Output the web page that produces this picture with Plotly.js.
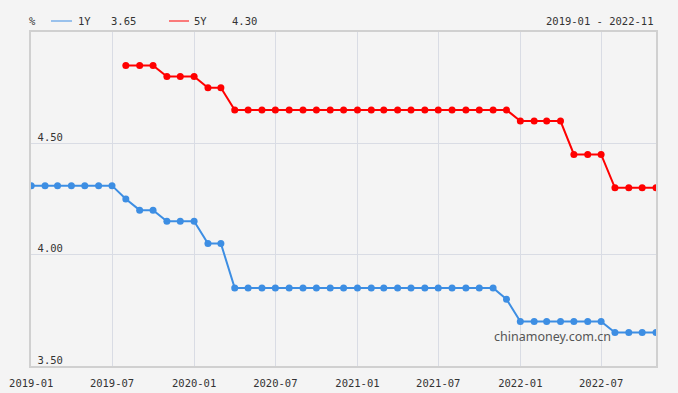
<!DOCTYPE html>
<html><head><meta charset="utf-8">
<script src="https://cdn.plot.ly/plotly-3.0.1.min.js"></script>
<style>html,body{margin:0;padding:0;background:#f4f4f4;}#chart{width:678px;height:393px;}</style>
</head><body><div id="chart"></div>
<script>
const dates1Y = ["2019-01","2019-02","2019-03","2019-04","2019-05","2019-06","2019-07","2019-08","2019-09","2019-10","2019-11","2019-12",
"2020-01","2020-02","2020-03","2020-04","2020-05","2020-06","2020-07","2020-08","2020-09","2020-10","2020-11","2020-12",
"2021-01","2021-02","2021-03","2021-04","2021-05","2021-06","2021-07","2021-08","2021-09","2021-10","2021-11","2021-12",
"2022-01","2022-02","2022-03","2022-04","2022-05","2022-06","2022-07","2022-08","2022-09","2022-10","2022-11"];
const values1Y = [4.31,4.31,4.31,4.31,4.31,4.31,4.31,4.25,4.20,4.20,4.15,4.15,
4.15,4.05,4.05,3.85,3.85,3.85,3.85,3.85,3.85,3.85,3.85,3.85,
3.85,3.85,3.85,3.85,3.85,3.85,3.85,3.85,3.85,3.85,3.85,3.80,
3.70,3.70,3.70,3.70,3.70,3.70,3.70,3.65,3.65,3.65,3.65];
const dates5Y = ["2019-08","2019-09","2019-10","2019-11","2019-12",
"2020-01","2020-02","2020-03","2020-04","2020-05","2020-06","2020-07","2020-08","2020-09","2020-10","2020-11","2020-12",
"2021-01","2021-02","2021-03","2021-04","2021-05","2021-06","2021-07","2021-08","2021-09","2021-10","2021-11","2021-12",
"2022-01","2022-02","2022-03","2022-04","2022-05","2022-06","2022-07","2022-08","2022-09","2022-10","2022-11"];
const values5Y = [4.85,4.85,4.85,4.80,4.80,
4.80,4.75,4.75,4.65,4.65,4.65,4.65,4.65,4.65,4.65,4.65,4.65,
4.65,4.65,4.65,4.65,4.65,4.65,4.65,4.65,4.65,4.65,4.65,4.65,
4.60,4.60,4.60,4.60,4.45,4.45,4.45,4.30,4.30,4.30,4.30];
const yTicks = [3.5,4.0,4.5];
const yTickLabels = ["3.50","4.00","4.50"];
const seriesNames = ["1Y","5Y"];
const unitLabel = "%";
const rangeLabel = dates1Y[0] + " - " + dates1Y[dates1Y.length-1];
const watermark = "chinamoney.com.cn";

const blue = "#3d8ee3", red = "#ff0000";
const mono = "DejaVu Sans Mono, Liberation Mono, monospace";
const toDate = d => d + "-01";

const traces = [
  {x: dates1Y.map(toDate), y: values1Y, mode: "lines+markers", line:{color:blue,width:2}, marker:{color:blue,size:7}, hoverinfo:"skip", showlegend:false},
  {x: dates5Y.map(toDate), y: values5Y, mode: "lines+markers", line:{color:red,width:2}, marker:{color:red,size:7}, hoverinfo:"skip", showlegend:false}
];

const txt = {family: mono, size: 10.5, color: "#333"};
const ly = (393-27-21)/334;
const layout = {
  width:678, height:393,
  margin:{l:31, r:22, t:32, b:27, pad:0},
  paper_bgcolor:"#f4f4f4", plot_bgcolor:"#f4f4f4",
  font: txt,
  xaxis:{type:"date", range:["2018-12-31 12:00", toDate(dates1Y[dates1Y.length-1])],
    dtick:"M6", tick0:"2019-01-01", tickformat:"%Y-%m", showgrid:true, gridcolor:"#d9dce4", gridwidth:1,
    showline:true, mirror:true, linecolor:"#d0d0d0", linewidth:2, ticks:"", zeroline:false,
    tickfont:txt, ticklabelstandoff:6},
  yaxis:{range:[3.5,5.0], tickvals:yTicks, ticktext:yTickLabels, showgrid:true, gridcolor:"#d9dce4", gridwidth:1,
    showline:true, mirror:true, linecolor:"#d0d0d0", linewidth:2, ticks:"", zeroline:false,
    ticklabelposition:"outside", ticklabelstandoff:-36, ticklabelshift:-6, tickfont:txt},
  shapes:[
    {type:"line", xref:"paper", yref:"paper", x0:(51-31)/625, x1:(72-31)/625, y0:ly, y1:ly, line:{color:"rgba(61,142,227,0.5)", width:2}},
    {type:"line", xref:"paper", yref:"paper", x0:(169-31)/625, x1:(189-31)/625, y0:ly, y1:ly, line:{color:"rgba(255,0,0,0.5)", width:2}}
  ],
  annotations:[
    {xref:"paper", yref:"paper", x:(27-31)/625, y:ly, xanchor:"left", yanchor:"middle", text:unitLabel, showarrow:false, font:txt},
    {xref:"paper", yref:"paper", x:(76-31)/625, y:ly, xanchor:"left", yanchor:"middle", text:seriesNames[0], showarrow:false, font:txt},
    {xref:"paper", yref:"paper", x:(109-31)/625, y:ly, xanchor:"left", yanchor:"middle", text:values1Y[values1Y.length-1].toFixed(2), showarrow:false, font:txt},
    {xref:"paper", yref:"paper", x:(192-31)/625, y:ly, xanchor:"left", yanchor:"middle", text:seriesNames[1], showarrow:false, font:txt},
    {xref:"paper", yref:"paper", x:(230-31)/625, y:ly, xanchor:"left", yanchor:"middle", text:values5Y[values5Y.length-1].toFixed(2), showarrow:false, font:txt},
    {xref:"paper", yref:"paper", x:(655-31)/625, y:ly, xanchor:"right", yanchor:"middle", text:rangeLabel, showarrow:false, font:txt},
    {xref:"paper", yref:"paper", x:(552-31)/625, y:(366-336)/334, xanchor:"center", yanchor:"middle", text:watermark, showarrow:false, font:{family:"Noto Sans, DejaVu Sans, sans-serif", size:12.5, color:"#555"}}
  ]
};
Plotly.newPlot("chart", traces, layout, {displayModeBar:false, staticPlot:true});
</script></body></html>
